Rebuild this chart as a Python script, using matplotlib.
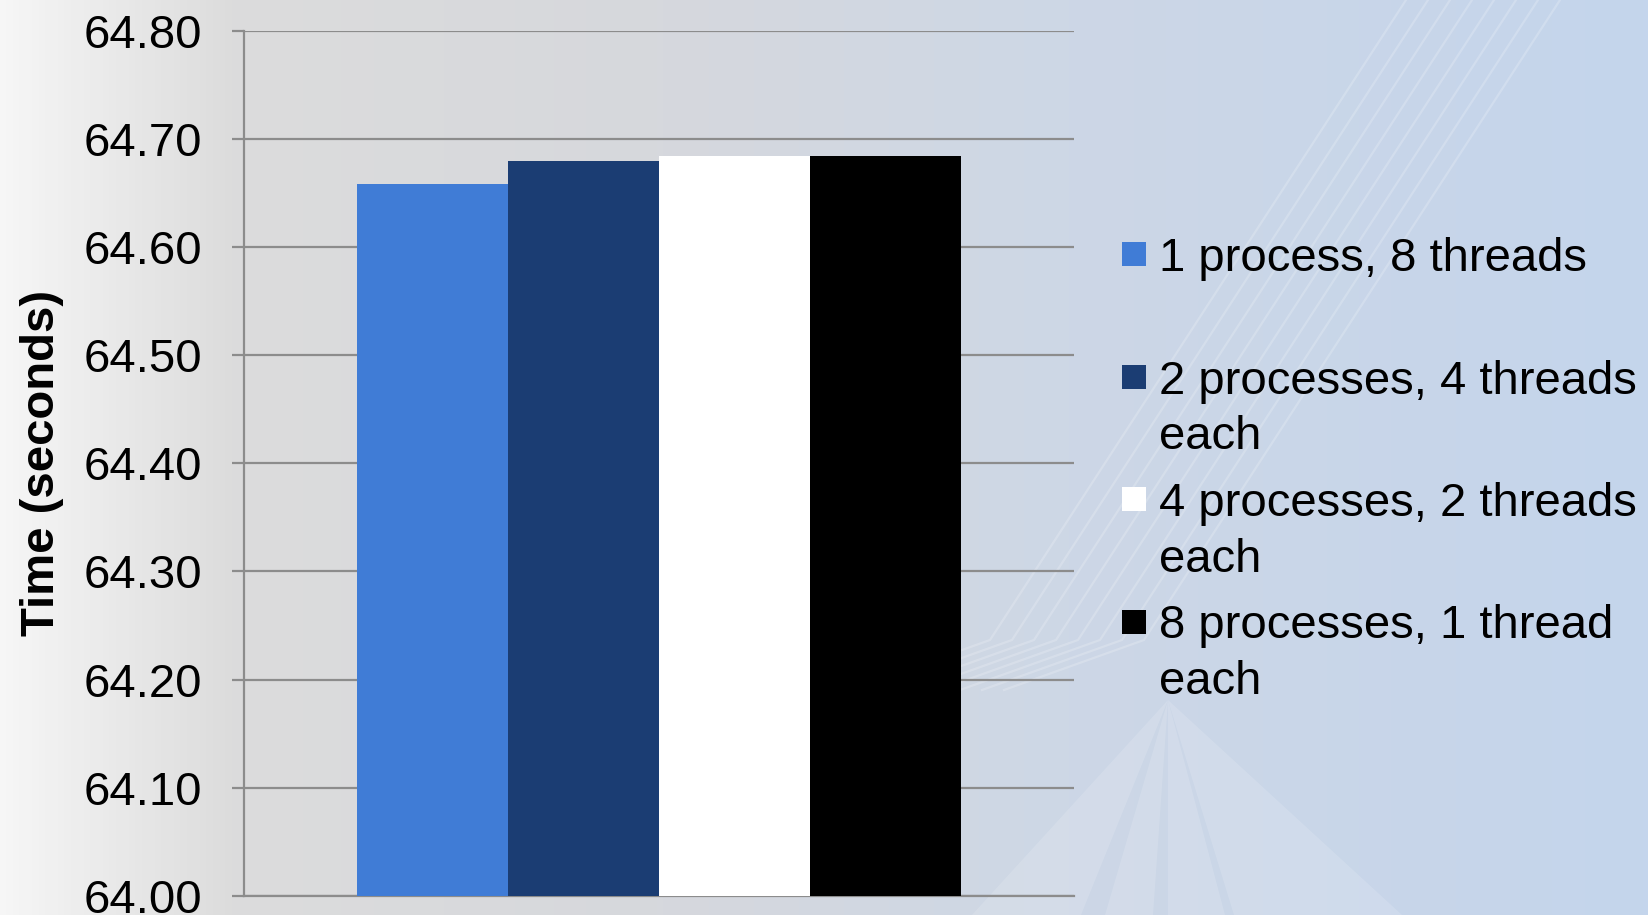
import numpy as np
import matplotlib
matplotlib.use("Agg")
import matplotlib.pyplot as plt
from matplotlib.colors import LinearSegmentedColormap
from matplotlib.patches import Rectangle, Polygon

plt.rcParams['font.family'] = ['Liberation Sans', 'DejaVu Sans']

# ------- data -------
series_labels = [
    "1 process, 8 threads",
    "2 processes, 4 threads\neach",
    "4 processes, 2 threads\neach",
    "8 processes, 1 thread\neach",
]
times = [64.658, 64.679, 64.684, 64.684]
bar_colors = ["#407cd6", "#1b3d73", "#ffffff", "#000000"]
y_ticks = [64.00, 64.10, 64.20, 64.30, 64.40, 64.50, 64.60, 64.70, 64.80]

W, H = 1649, 915
fig = plt.figure(figsize=(W / 100, H / 100), dpi=100)

# slide background: gray -> light blue gradient (pixel coords, y down)
bg = fig.add_axes([0, 0, 1, 1], zorder=-10)
cmap = LinearSegmentedColormap.from_list("slide", [
    (0.00, "#f6f6f6"),
    (0.14, "#dcdcdc"),
    (0.40, "#d6d8dd"),
    (0.65, "#cdd7e6"),
    (1.00, "#c4d5ec"),
])
grad = np.linspace(0, 1, 512)[None, :]
bg.imshow(grad, aspect="auto", cmap=cmap, extent=(0, W, H, 0))
# faint streaks in the top right, bending left near the bottom
for k in range(8):
    xt = 1406 + k * 22
    xb = xt - 0.65 * 640
    bg.plot([xt, xb, xb - 140], [0, 640, 690], color="white", alpha=0.2, lw=1.6)
# light wedges fanning down from below the legend
apex = (1168, 700)
for x0, x1 in [(972, 1081), (1105, 1153), (1168, 1225), (1234, 1402)]:
    bg.add_patch(Polygon([apex, (x0, H), (x1, H)], closed=True,
                         facecolor="white", alpha=0.14, lw=0))
bg.set_xlim(0, W)
bg.set_ylim(H, 0)
bg.axis("off")

# ------- chart -------
ax = fig.add_axes([244 / W, 19 / H, (1074 - 244) / W, (884.5 - 19) / H])
ax.patch.set_alpha(0)

bw = 0.182
offsets = (np.arange(len(times)) - (len(times) - 1) / 2) * bw
for off, t, c in zip(offsets, times, bar_colors):
    ax.bar(off, t - y_ticks[0], bottom=y_ticks[0], width=bw, color=c,
           edgecolor="none", zorder=3)

ax.set_xlim(-0.5, 0.5)
ax.set_ylim(y_ticks[0], y_ticks[-1])
ax.set_yticks(y_ticks)
ax.set_yticklabels([f"{v:.2f}" for v in y_ticks], fontsize=34)
ax.set_xticks([])
ax.yaxis.grid(True, color="#8c8c8c", linewidth=1.6, zorder=0)
ax.set_axisbelow(True)
ax.tick_params(axis="y", length=9, width=1.6, color="#8c8c8c", pad=21)
for side in ["top", "right"]:
    ax.spines[side].set_visible(False)
ax.spines["left"].set_color("#8c8c8c")
ax.spines["left"].set_linewidth(1.6)
ax.spines["bottom"].set_color("#8c8c8c")
ax.spines["bottom"].set_linewidth(1.6)
ax.set_ylabel("Time (seconds)", fontsize=34, fontweight="bold", labelpad=14)

# ------- legend -------
base0 = 271
step = 122.5
line_gap = 55.5
for i, (lab, c) in enumerate(zip(series_labels, bar_colors)):
    base = base0 + i * step
    fig.patches.append(Rectangle((1122 / W, 1 - (base - 5) / H), 24 / W, 24 / H,
                                 transform=fig.transFigure, facecolor=c,
                                 edgecolor="none"))
    for j, line in enumerate(lab.split("\n")):
        fig.text(1159 / W, 1 - (base + j * line_gap) / H, line, fontsize=34,
                 ha="left", va="baseline", color="black")

fig.savefig("out.png", dpi=100)
